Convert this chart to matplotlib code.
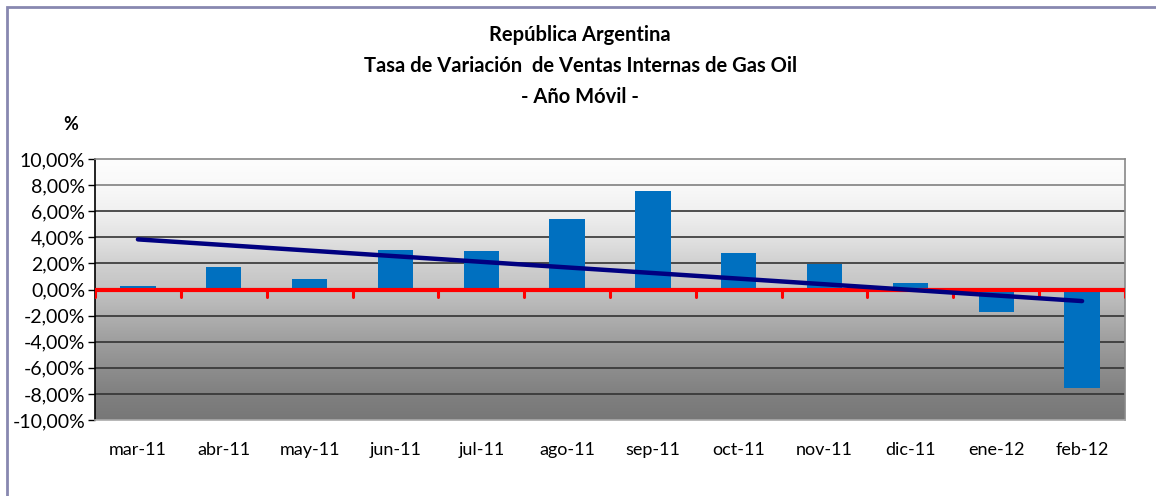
import numpy as np
import matplotlib.pyplot as plt
from matplotlib.patches import Rectangle

plt.rcParams['font.family'] = ['Lato', 'DejaVu Sans']

meses = ['mar-11', 'abr-11', 'may-11', 'jun-11', 'jul-11', 'ago-11',
         'sep-11', 'oct-11', 'nov-11', 'dic-11', 'ene-12', 'feb-12']
variacion = [0.26, 1.72, 0.82, 3.03, 2.95, 5.41,
             7.56, 2.79, 1.97, 0.49, -1.72, -7.56]
y_ticks = [-10, -8, -6, -4, -2, 0, 2, 4, 6, 8, 10]
# tonos de gris del fondo (de abajo hacia arriba)
fondo_gris = [0x77, 0x80, 0x8e, 0x9e, 0xb0, 0xc3, 0xd0, 0xe2, 0xf0, 0xf9, 0xfd]

fig = plt.figure(figsize=(11.56, 4.96), dpi=100)
fig.patches.append(Rectangle((7 / 1156, -0.1), 1.2, (496 - 7) / 496 + 0.1,
                             transform=fig.transFigure, fill=False,
                             edgecolor='#8888b0', linewidth=2))

ax = fig.add_axes([95 / 1156, 76 / 496, 1030 / 1156, 261 / 496])
x = np.arange(len(meses))
ax.set_xlim(-0.5, len(meses) - 0.5)
ax.set_ylim(-10, 10)

# fondo degradado
yy = np.linspace(-10, 10, 300)
g = np.interp(yy, y_ticks, fondo_gris) / 255.0
img = np.repeat(np.stack([g, g, g], axis=-1)[:, None, :], 2, axis=1)
ax.imshow(img, extent=[-0.5, len(meses) - 0.5, -10, 10], origin='lower',
          aspect='auto', zorder=0, interpolation='bilinear')

for t in y_ticks[1:-1]:
    col = '#808080' if t == 8 else '#333333'
    ax.axhline(t, color=col, linewidth=1.2, zorder=1)

ax.bar(x, variacion, width=0.41, color='#0070c0', zorder=2)

# linea cero roja con marcas
ax.plot([-0.5, len(meses) - 0.5], [0, 0], color='#ff0000', linewidth=3,
        solid_capstyle='round', zorder=3)
for b in np.arange(-0.5, len(meses), 1.0):
    ax.plot([b, b], [0, -0.55], color='#ff0000', linewidth=2.2,
            solid_capstyle='round', zorder=3)

# linea de tendencia
m, c = np.polyfit(x, variacion, 1)
ax.plot(x, m * x + c, color='#000080', linewidth=3.2,
        solid_capstyle='round', zorder=4)

ax.set_yticks(y_ticks)
ax.set_yticklabels([f'{t:.2f}'.replace('.', ',') + '%' for t in y_ticks],
                   fontsize=14)
ax.set_xticks(x)
ax.set_xticklabels(meses, fontsize=13)
ax.tick_params(axis='x', length=0, pad=16)
ax.tick_params(axis='y', length=5, width=1, direction='out', pad=2)
ax.spines['left'].set_color('black')
ax.spines['top'].set_color('#888888')
ax.spines['right'].set_color('#888888')
ax.spines['bottom'].set_color('#aaaaaa')
for s in ax.spines.values():
    s.set_linewidth(1.2)

fig.text(0.502, 1 - 35 / 496, 'República Argentina', ha='center', va='center',
         fontsize=14.5, fontweight='bold')
fig.text(0.502, 1 - 66 / 496, 'Tasa de Variación  de Ventas Internas de Gas Oil',
         ha='center', va='center', fontsize=14.5, fontweight='bold')
fig.text(0.502, 1 - 97 / 496, '- Año Móvil -', ha='center', va='center',
         fontsize=14.5, fontweight='bold')
fig.text(71 / 1156, 1 - 125 / 496, '%', ha='center', va='center',
         fontsize=13, fontweight='bold')

fig.savefig('out.png', dpi=100)
